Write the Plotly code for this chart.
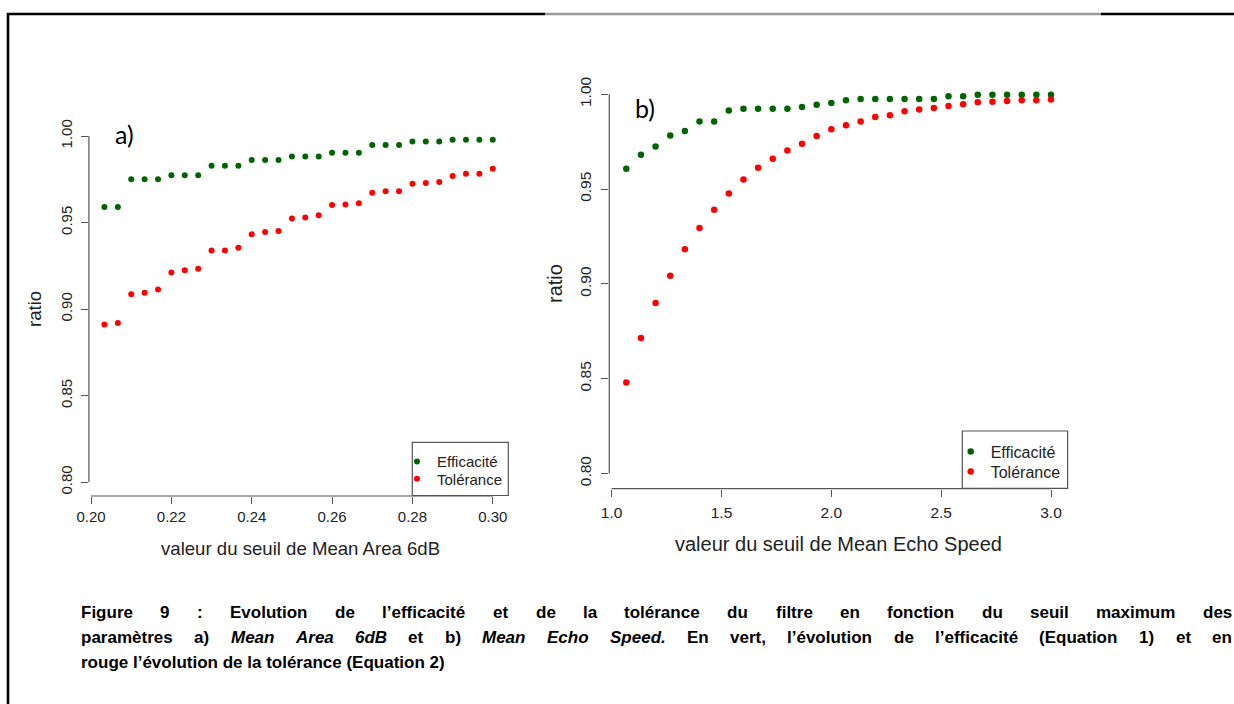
import plotly.graph_objects as go

W, H = 1234, 704

# ---------------- data ----------------
# Panel a) : seuil de Mean Area 6dB
seuil_a = [round(0.2 + k / 300, 5) for k in range(1, 31)]
efficacite_a = [0.959, 0.959, 0.975, 0.975, 0.975, 0.9773, 0.9773, 0.9773,
                0.9828, 0.9828, 0.9828, 0.9861, 0.9861, 0.9861, 0.9882, 0.9882,
                0.9882, 0.9903, 0.9903, 0.9903, 0.9948, 0.9948, 0.9948, 0.9969,
                0.9969, 0.9969, 0.9979, 0.9979, 0.9979, 0.9979]
tolerance_a = [0.8911, 0.892, 0.9086, 0.9095, 0.9113, 0.9212, 0.9225, 0.9233,
               0.9338, 0.9338, 0.9355, 0.9433, 0.9445, 0.9452, 0.9523, 0.9529,
               0.9542, 0.9601, 0.9605, 0.9611, 0.9672, 0.9681, 0.9681, 0.9725,
               0.9729, 0.9735, 0.9769, 0.9782, 0.9782, 0.9811]

# Panel b) : seuil de Mean Echo Speed
seuil_b = [round(1 + k / 15, 5) for k in range(1, 31)]
efficacite_b = [0.9607, 0.9681, 0.9725, 0.9783, 0.9806, 0.9857, 0.9857, 0.9915,
                0.9923, 0.9923, 0.9923, 0.9923, 0.9933, 0.9945, 0.9954, 0.9968,
                0.9975, 0.9975, 0.9975, 0.9975, 0.9975, 0.9975, 0.9989, 0.9989,
                0.9998, 0.9998, 0.9998, 0.9998, 0.9998, 0.9998]
tolerance_b = [0.8479, 0.8714, 0.8899, 0.9043, 0.9182, 0.9295, 0.9391, 0.9476,
               0.9551, 0.9613, 0.966, 0.9704, 0.9739, 0.978, 0.9815, 0.9836,
               0.9857, 0.988, 0.9889, 0.991, 0.9919, 0.9928, 0.9938, 0.9947,
               0.9958, 0.9961, 0.9965, 0.9968, 0.9968, 0.9972]

xticks_a = [0.20, 0.22, 0.24, 0.26, 0.28, 0.30]
xticklabels_a = ["0.20", "0.22", "0.24", "0.26", "0.28", "0.30"]
xticks_b = [1.0, 1.5, 2.0, 2.5, 3.0]
xticklabels_b = ["1.0", "1.5", "2.0", "2.5", "3.0"]
yticks = [0.80, 0.85, 0.90, 0.95, 1.00]
yticklabels = ["0.80", "0.85", "0.90", "0.95", "1.00"]

series_names = ["Efficacité", "Tolérance"]
GREEN, RED = "#006400", "#FF0000"

caption_line1 = ["Figure", "9", ":", "Evolution", "de", "l’efficacité", "et", "de", "la",
                 "tolérance", "du", "filtre", "en", "fonction", "du", "seuil",
                 "maximum", "des"]
caption_line2 = [("paramètres", False), ("a)", False), ("Mean", True), ("Area", True),
                 ("6dB", True), ("et", False), ("b)", False), ("Mean", True),
                 ("Echo", True), ("Speed.", True), ("En", False), ("vert,", False),
                 ("l’évolution", False), ("de", False), ("l’efficacité", False),
                 ("(Equation", False), ("1)", False), ("et", False), ("en", False)]
caption_line3 = "rouge l’évolution de la tolérance (Equation 2)"


def px(x):
    return x / W


def py(y):
    return 1 - y / H


def r_range(v, frac=0.04):
    lo, hi = min(v), max(v)
    d = (hi - lo) * frac
    return [lo - d, hi + d]


fig = go.Figure()

# one native legend per entry so that each row can sit exactly where R put it
fig.add_trace(go.Scatter(x=seuil_a, y=efficacite_a, mode="markers", name=series_names[0],
                         marker=dict(color=GREEN, size=6), xaxis="x", yaxis="y",
                         legend="legend", showlegend=True))
fig.add_trace(go.Scatter(x=seuil_a, y=tolerance_a, mode="markers", name=series_names[1],
                         marker=dict(color=RED, size=6), xaxis="x", yaxis="y",
                         legend="legend2", showlegend=True))
fig.add_trace(go.Scatter(x=seuil_b, y=efficacite_b, mode="markers", name=series_names[0],
                         marker=dict(color=GREEN, size=6.5), xaxis="x2", yaxis="y2",
                         legend="legend3", showlegend=True))
fig.add_trace(go.Scatter(x=seuil_b, y=tolerance_b, mode="markers", name=series_names[1],
                         marker=dict(color=RED, size=6.5), xaxis="x2", yaxis="y2",
                         legend="legend4", showlegend=True))

AX = "#555555"
TXT = "#222222"
FONT = "Liberation Sans, Arial, sans-serif"

yr = [0.80 - 0.008, 1.00 + 0.008]


def axis_common(fs, standoff):
    return dict(showgrid=False, zeroline=False, showline=False, ticks="outside",
                ticklen=7, tickwidth=1.2, tickcolor=AX, automargin=False,
                ticklabelstandoff=standoff,
                tickfont=dict(family=FONT, size=fs, color=TXT), tickmode="array")


def leg(xtext, ycenter, fs, off):
    # native legend: symbol at +20 px, text at +40 px, row centre ~off px below top
    return dict(x=px(xtext - 40), y=py(ycenter - off), xanchor="left", yanchor="top",
                bgcolor="rgba(0,0,0,0)", borderwidth=0, visible=True,
                font=dict(family=FONT, size=fs, color=TXT))


fig.update_layout(
    width=W, height=H, margin=dict(l=0, r=0, t=0, b=0, pad=0, autoexpand=False),
    showlegend=True,
    paper_bgcolor="white", plot_bgcolor="white",
    xaxis=dict(domain=[px(88.9), px(508.3)], range=r_range(seuil_a),
               tickvals=xticks_a, ticktext=xticklabels_a, anchor="y",
               **axis_common(15, 0)),
    yaxis=dict(domain=[py(496), py(122.2)], range=yr, tickvals=yticks,
               ticktext=yticklabels, tickangle=-90, anchor="x",
               **axis_common(15, 3)),
    xaxis2=dict(domain=[px(609.3), px(1068)], range=r_range(seuil_b),
                tickvals=xticks_b, ticktext=xticklabels_b, anchor="y2",
                **axis_common(15.5, 3)),
    yaxis2=dict(domain=[py(488.6), py(79.1)], range=yr, tickvals=yticks,
                ticktext=yticklabels, tickangle=-90, anchor="x2",
                **axis_common(15.5, 4)),
    legend=leg(437, 461.7, 15, 16.5),
    legend2=leg(437, 479, 15, 16.5),
    legend3=leg(990.7, 451.7, 16, 17),
    legend4=leg(990.7, 471.7, 16, 17),
)

shapes = []
# R-style axis lines (span first to last tick)
shapes.append(dict(type="line", xref="x domain", yref="y", x0=0, x1=0, y0=0.80, y1=1.00,
                   line=dict(color=AX, width=1.2)))
shapes.append(dict(type="line", xref="x", yref="y domain", x0=0.20, x1=0.30, y0=0, y1=0,
                   line=dict(color=AX, width=1.2)))
shapes.append(dict(type="line", xref="x2 domain", yref="y2", x0=0, x1=0, y0=0.80, y1=1.00,
                   line=dict(color=AX, width=1.2)))
shapes.append(dict(type="line", xref="x2", yref="y2 domain", x0=1.0, x1=3.0, y0=0, y1=0,
                   line=dict(color=AX, width=1.2)))
# legend boxes
shapes.append(dict(type="rect", xref="paper", yref="paper", x0=px(412.3), x1=px(508.3),
                   y0=py(495.5), y1=py(442.3), line=dict(color=AX, width=1.2)))
shapes.append(dict(type="rect", xref="paper", yref="paper", x0=px(962.3), x1=px(1067.6),
                   y0=py(488.3), y1=py(431), line=dict(color=AX, width=1.2)))
# document frame
shapes.append(dict(type="line", xref="paper", yref="paper", x0=px(8), x1=px(8),
                   y0=py(13), y1=py(704), line=dict(color="black", width=2.5)))
shapes.append(dict(type="line", xref="paper", yref="paper", x0=px(7), x1=px(545),
                   y0=py(14), y1=py(14), line=dict(color="black", width=2.5)))
shapes.append(dict(type="line", xref="paper", yref="paper", x0=px(545), x1=px(1101),
                   y0=py(14), y1=py(14), line=dict(color="#9a9a9a", width=2.5)))
shapes.append(dict(type="line", xref="paper", yref="paper", x0=px(1101), x1=px(1234),
                   y0=py(14), y1=py(14), line=dict(color="black", width=2.5)))
fig.update_layout(shapes=shapes)

ann = []
# axis titles
ann.append(dict(text="valeur du seuil de Mean Area 6dB", xref="paper", yref="paper",
                x=px(300), y=py(548), showarrow=False, xanchor="center", yanchor="middle",
                font=dict(family=FONT, size=18.6, color=TXT)))
ann.append(dict(text="ratio", xref="paper", yref="paper", x=px(34), y=py(309),
                showarrow=False, textangle=-90, xanchor="center", yanchor="middle",
                font=dict(family=FONT, size=18.6, color=TXT)))
ann.append(dict(text="valeur du seuil de Mean Echo Speed", xref="paper", yref="paper",
                x=px(838.5), y=py(543.5), showarrow=False, xanchor="center",
                yanchor="middle", font=dict(family=FONT, size=20, color=TXT)))
ann.append(dict(text="ratio", xref="paper", yref="paper", x=px(555), y=py(284),
                showarrow=False, textangle=-90, xanchor="center", yanchor="middle",
                font=dict(family=FONT, size=20, color=TXT)))
# panel labels
ann.append(dict(text="a)", xref="paper", yref="paper", x=px(113), y=py(134),
                showarrow=False, xanchor="left", yanchor="middle",
                font=dict(family="Lato, Open Sans, sans-serif", size=25, color="black")))
ann.append(dict(text="b)", xref="paper", yref="paper", x=px(633), y=py(108),
                showarrow=False, xanchor="left", yanchor="middle",
                font=dict(family="Lato, Open Sans, sans-serif", size=25, color="black")))

# caption (justified lines built word by word, Arial / Liberation Sans Bold metrics)
AW = {" ": 278, "(": 333, ")": 333, ",": 278, ".": 278, ":": 333, "’": 278,
      "A": 722, "E": 667, "F": 611, "M": 833, "S": 667,
      "a": 556, "b": 611, "c": 556, "d": 611, "e": 556, "f": 333, "g": 611, "h": 611,
      "i": 278, "j": 278, "k": 556, "l": 278, "m": 889, "n": 611, "o": 611, "p": 611,
      "q": 611, "r": 389, "s": 556, "t": 333, "u": 611, "v": 556, "w": 778, "x": 556,
      "y": 556, "z": 500, "é": 556, "è": 556, "0": 556, "1": 556, "2": 556, "6": 556,
      "9": 556, "B": 722}
CAP_FONT = "Liberation Sans, Arial, sans-serif"
CAP_FS = 17
CAP_L, CAP_R = 80, 1231


def tw(s, fs):
    return sum(AW.get(ch, 556) for ch in s) * fs / 1000.0


def justified(words, yc):
    widths = [tw(w, CAP_FS) for w, _ in words]
    gap = (CAP_R - CAP_L - sum(widths)) / (len(words) - 1)
    x = CAP_L
    for (w, it), wd in zip(words, widths):
        txt = f"<b><i>{w}</i></b>" if it else f"<b>{w}</b>"
        ann.append(dict(text=txt, xref="paper", yref="paper", x=px(x), y=py(yc),
                        showarrow=False, xanchor="left", yanchor="middle", borderpad=0,
                        font=dict(family=CAP_FONT, size=CAP_FS, color="black")))
        x += wd + gap


justified([(w, False) for w in caption_line1], 612)
justified(caption_line2, 637)
ann.append(dict(text=f"<b>{caption_line3}</b>", xref="paper", yref="paper", x=px(CAP_L),
                y=py(662), showarrow=False, xanchor="left", yanchor="middle", borderpad=0,
                font=dict(family=CAP_FONT, size=CAP_FS, color="black")))

fig.update_layout(annotations=ann)

fig.write_html("out.html",
               post_script="document.body.style.margin='0px';"
                           "document.body.style.overflow='hidden';")
